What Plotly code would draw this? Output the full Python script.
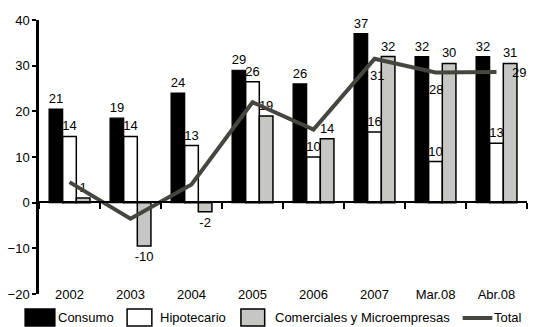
import plotly.graph_objects as go

categories = ["2002", "2003", "2004", "2005", "2006", "2007", "Mar.08", "Abr.08"]
consumo = [20.5, 18.5, 24, 29, 26, 37, 32, 32]
consumo_lbl = ["21", "19", "24", "29", "26", "37", "32", "32"]
hipotecario = [14.5, 14.5, 12.5, 26.5, 10, 15.5, 9, 13]
hipotecario_lbl = ["14", "14", "13", "26", "10", "16", "10", "13"]
comerciales = [1, -9.5, -2, 19, 14, 32, 30.5, 30.5]
comerciales_lbl = ["1", "-10", "-2", "19", "14", "32", "30", "31"]
total = [4.5, -3.5, 4, 22, 16, 31.5, 28.5, 28.6]
total_lbl = ["", "", "", "", "", "31", "28", "29"]
y_ticks = [-20, -10, 0, 10, 20, 30, 40]

FONT = "Liberation Sans, Arial, sans-serif"
GREY = "#c6c6c2"
LINEC = "#46453f"

fig = go.Figure()
common = dict(textposition="outside", cliponaxis=False, constraintext="none",
              textfont=dict(family=FONT, size=13, color="black"), hoverinfo="skip")
fig.add_trace(go.Bar(x=categories, y=consumo, name="Consumo", text=consumo_lbl,
                     marker=dict(color="black", line=dict(color="black", width=1.2)), **common))
fig.add_trace(go.Bar(x=categories, y=hipotecario, name="Hipotecario", text=hipotecario_lbl,
                     marker=dict(color="white", line=dict(color="black", width=1.5)), **common))
fig.add_trace(go.Bar(x=categories, y=comerciales, name="Comerciales y Microempresas",
                     text=comerciales_lbl,
                     marker=dict(color=GREY, line=dict(color="black", width=1.5)), **common))
fig.add_trace(go.Scatter(x=categories, y=total, name="Total", mode="lines",
                         line=dict(color=LINEC, width=4), cliponaxis=False, hoverinfo="skip"))
# helper trace for the zero-line axis with boundary ticks
fig.add_trace(go.Scatter(x=categories, y=[0] * len(categories), xaxis="x2", mode="markers",
                         marker=dict(opacity=0), showlegend=False, hoverinfo="skip"))

# Total labels (only the last three are labelled in the reference)
offsets = {5: (2, -17), 6: (0, -17), 7: (22, 0)}
for i, lbl in enumerate(total_lbl):
    if lbl:
        dx, dy = offsets[i]
        fig.add_annotation(x=i, y=total[i], text=lbl, showarrow=False,
                           xshift=dx, yshift=dy, font=dict(family=FONT, size=13))

xr = [-0.5, len(categories) - 0.5]
fig.update_layout(
    width=535, height=327,
    margin=dict(l=34, r=8, t=20, b=33),
    paper_bgcolor="white", plot_bgcolor="white",
    font=dict(family=FONT, size=13, color="black"),
    barmode="group", bargap=0.33, bargroupgap=0,
    showlegend=False,
    xaxis=dict(type="category", categoryarray=categories, range=xr, showline=False, ticks="",
               showgrid=False, zeroline=False, tickfont=dict(size=13), ticklabelstandoff=-9),
    xaxis2=dict(type="category", categoryarray=categories, overlaying="x", range=xr,
                anchor="free", position=(294 - 202) / 274, showline=True, linecolor="black",
                linewidth=2, ticks="outside", tickson="boundaries", ticklen=6, tickwidth=1.5,
                tickcolor="black", showticklabels=False, showgrid=False, zeroline=False),
    yaxis=dict(range=[-20, 40], tickvals=y_ticks, showline=True, linecolor="black",
               linewidth=2.5, ticks="outside", ticklen=4, tickwidth=1.5, tickcolor="black",
               showgrid=False, zeroline=False, tickfont=dict(size=13)),
)

# manual legend (paper coords from pixel positions)
def px(x):
    return (x - 34) / 493

def py(y):
    return (294 - y) / 274

boxes = [(20, 50, "black", "Consumo", 52), (123, 148, "white", "Hipotecario", 155),
         (238, 262, GREY, "Comerciales y Microempresas", 271)]
for x0, x1, col, label, tx in boxes:
    fig.add_shape(type="rect", xref="paper", yref="paper", x0=px(x0), x1=px(x1),
                  y0=py(326), y1=py(309), fillcolor=col, line=dict(color="black", width=1.5))
    fig.add_annotation(xref="paper", yref="paper", x=px(tx), y=py(317.5), text=label,
                       showarrow=False, xanchor="left", yanchor="middle", borderpad=0,
                       font=dict(family=FONT, size=13))
fig.add_shape(type="line", xref="paper", yref="paper", x0=px(462), x1=px(492),
              y0=py(318), y1=py(318), line=dict(color=LINEC, width=4))
fig.add_annotation(xref="paper", yref="paper", x=px(493), y=py(317.5), text="Total",
                   showarrow=False, xanchor="left", yanchor="middle", borderpad=0,
                   font=dict(family=FONT, size=13))

fig.write_html("out.html", config={"displayModeBar": False},
               post_script="document.body.style.margin='0';document.body.style.overflow='hidden';")
